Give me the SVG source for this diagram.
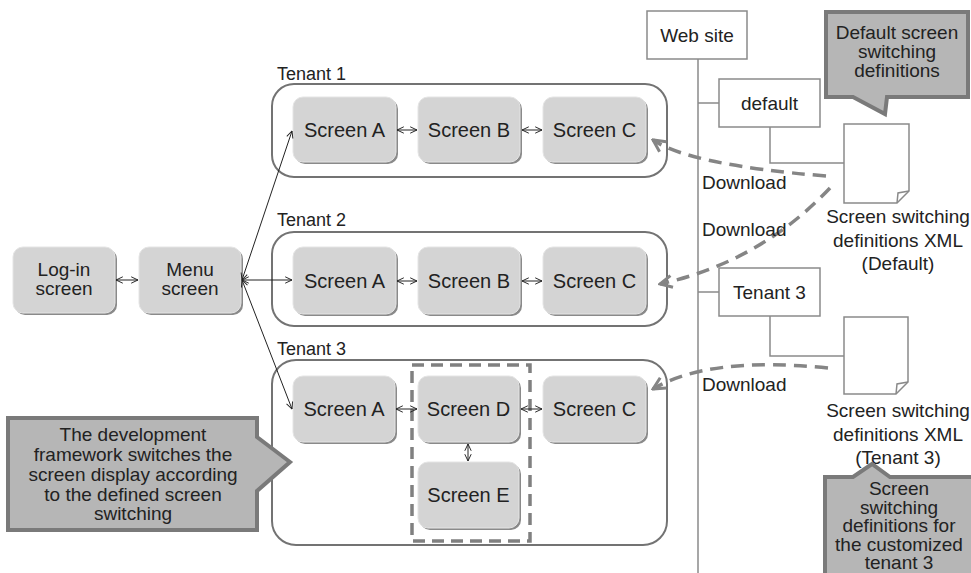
<svg xmlns="http://www.w3.org/2000/svg" width="971" height="573" viewBox="0 0 971 573">
  <style>
    text { font-family: "Liberation Sans", Arial, sans-serif; font-size: 19px; fill: #222; }
    .mid { text-anchor: middle; }
    .lbl { font-size: 18px; }
    .big { font-size: 20px; }
    .shadow { fill: #8a8a8a; }
    .screen { fill: #d4d4d4; stroke: #e4e4e4; stroke-width: 1; }
    .tenant { fill: none; stroke: #737373; stroke-width: 2; }
    .plain { fill: #fff; stroke: #8a8a8a; stroke-width: 1.5; }
    .wire { fill: none; stroke: #8a8a8a; stroke-width: 1.5; }
    .link { fill: none; stroke: #222; stroke-width: 1; marker-start: url(#tip); marker-end: url(#tip); }
    .dl { fill: none; stroke: #858585; stroke-width: 3.5; stroke-dasharray: 13 8; marker-end: url(#dltip); }
    .callout { fill: #b6b6b6; stroke: #7a7a7a; stroke-width: 4; stroke-linejoin: miter; }
    .group { fill: none; stroke: #808080; stroke-width: 3.5; stroke-dasharray: 12 7; }
  </style>
  <defs>
    <marker id="tip" viewBox="0 0 10 10" refX="9.5" refY="5" markerWidth="8" markerHeight="8" markerUnits="userSpaceOnUse" orient="auto-start-reverse">
      <path d="M1,1 L9.5,5 L1,9" fill="none" stroke="#222" stroke-width="1.2"/>
    </marker>
    <marker id="dltip" viewBox="0 0 16 16" refX="14" refY="8" markerWidth="16" markerHeight="16" markerUnits="userSpaceOnUse" orient="auto">
      <path d="M2,2 L14,8 L2,14" fill="none" stroke="#858585" stroke-width="3"/>
    </marker>
  </defs>

  <!-- tenant containers -->
  <g id="tenant1">
    <text class="lbl" x="277" y="80">Tenant 1</text>
    <rect class="tenant" x="272" y="84" width="395" height="93" rx="22"/>
  </g>
  <g id="tenant2">
    <text class="lbl" x="277" y="226">Tenant 2</text>
    <rect class="tenant" x="272" y="232" width="395" height="94" rx="22"/>
  </g>
  <g id="tenant3">
    <text class="lbl" x="277" y="355">Tenant 3</text>
    <rect class="tenant" x="272" y="360" width="395" height="185" rx="24"/>
    <rect class="group" x="412" y="365" width="118" height="176"/>
  </g>

  <!-- screens -->
  <g id="login">
    <rect class="shadow" x="15" y="249" width="102" height="66" rx="10"/>
    <rect class="screen" x="13" y="247" width="102" height="66" rx="10"/>
    <text class="mid" x="64" y="276">Log-in</text>
    <text class="mid" x="64" y="295">screen</text>
  </g>
  <g id="menu">
    <rect class="shadow" x="141" y="249" width="102" height="66" rx="10"/>
    <rect class="screen" x="139" y="247" width="102" height="66" rx="10"/>
    <text class="mid" x="190" y="276">Menu</text>
    <text class="mid" x="190" y="295">screen</text>
  </g>

  <g id="t1-screen-a">
    <rect class="shadow" x="295" y="99" width="103" height="65" rx="10"/>
    <rect class="screen" x="293" y="97" width="103" height="65" rx="10"/>
    <text class="mid big" x="344.5" y="137">Screen A</text>
  </g>
  <g id="t1-screen-b">
    <rect class="shadow" x="420" y="99" width="102" height="65" rx="10"/>
    <rect class="screen" x="418" y="97" width="102" height="65" rx="10"/>
    <text class="mid big" x="469" y="137">Screen B</text>
  </g>
  <g id="t1-screen-c">
    <rect class="shadow" x="545" y="99" width="103" height="65" rx="10"/>
    <rect class="screen" x="543" y="97" width="103" height="65" rx="10"/>
    <text class="mid big" x="594.5" y="137">Screen C</text>
  </g>

  <g id="t2-screen-a">
    <rect class="shadow" x="295" y="249" width="103" height="67" rx="10"/>
    <rect class="screen" x="293" y="247" width="103" height="67" rx="10"/>
    <text class="mid big" x="344.5" y="288">Screen A</text>
  </g>
  <g id="t2-screen-b">
    <rect class="shadow" x="420" y="249" width="102" height="67" rx="10"/>
    <rect class="screen" x="418" y="247" width="102" height="67" rx="10"/>
    <text class="mid big" x="469" y="288">Screen B</text>
  </g>
  <g id="t2-screen-c">
    <rect class="shadow" x="545" y="249" width="103" height="67" rx="10"/>
    <rect class="screen" x="543" y="247" width="103" height="67" rx="10"/>
    <text class="mid big" x="594.5" y="288">Screen C</text>
  </g>

  <g id="t3-screen-a">
    <rect class="shadow" x="295" y="378" width="102" height="66" rx="10"/>
    <rect class="screen" x="293" y="376" width="102" height="66" rx="10"/>
    <text class="mid big" x="344" y="416">Screen A</text>
  </g>
  <g id="t3-screen-d">
    <rect class="shadow" x="420" y="378" width="101" height="66" rx="10"/>
    <rect class="screen" x="418" y="376" width="101" height="66" rx="10"/>
    <text class="mid big" x="468.5" y="416">Screen D</text>
  </g>
  <g id="t3-screen-c">
    <rect class="shadow" x="545" y="378" width="103" height="66" rx="10"/>
    <rect class="screen" x="543" y="376" width="103" height="66" rx="10"/>
    <text class="mid big" x="594.5" y="416">Screen C</text>
  </g>
  <g id="t3-screen-e">
    <rect class="shadow" x="420" y="464" width="101" height="66" rx="10"/>
    <rect class="screen" x="418" y="462" width="101" height="66" rx="10"/>
    <text class="mid big" x="468.5" y="502">Screen E</text>
  </g>

  <!-- web site side -->
  <g id="website">
    <rect class="plain" x="647" y="11" width="100" height="48"/>
    <text class="mid" x="697" y="42">Web site</text>
  </g>
  <g id="default">
    <rect class="plain" x="719" y="79" width="101" height="48"/>
    <text class="mid" x="769.5" y="110">default</text>
  </g>
  <g id="tenant3-site">
    <rect class="plain" x="719" y="268" width="101" height="48"/>
    <text class="mid" x="769.5" y="299">Tenant 3</text>
  </g>
  <g id="xml-default">
    <path class="plain" d="M844,124 H909 V191 L897,203 H844 Z"/>
    <path class="wire" d="M909,191 L898,193 L897,203" fill="#f2f2f2"/>
    <text class="mid" x="898" y="223">Screen switching</text>
    <text class="mid" x="898" y="247">definitions XML</text>
    <text class="mid" x="898" y="270">(Default)</text>
  </g>
  <g id="xml-tenant3">
    <path class="plain" d="M844,317 H908 V382 L896,394 H844 Z"/>
    <path class="wire" d="M908,382 L897,384 L896,394" fill="#f2f2f2"/>
    <text class="mid" x="898" y="417">Screen switching</text>
    <text class="mid" x="898" y="441">definitions XML</text>
    <text class="mid" x="898" y="464">(Tenant 3)</text>
  </g>

  <!-- callouts -->
  <g id="note-default">
    <path class="callout" d="M826,12 H968 V97 H887 L885,114 L853,97 H826 Z"/>
    <text class="mid" x="897" y="39">Default screen</text>
    <text class="mid" x="897" y="58">switching</text>
    <text class="mid" x="897" y="77">definitions</text>
  </g>
  <g id="note-tenant3">
    <path class="callout" d="M825,580 V477 H853 L872,464 L890,477 H980 V580"/>
    <text class="mid" x="899" y="495">Screen</text>
    <text class="mid" x="899" y="513.5">switching</text>
    <text class="mid" x="899" y="532">definitions for</text>
    <text class="mid" x="899" y="550.5">the customized</text>
    <text class="mid" x="899" y="569">tenant 3</text>
  </g>
  <g id="note-framework">
    <path class="callout" d="M8,418 H257 V437 L290,462 L257,491 V530 H8 Z"/>
    <text class="mid" x="133" y="441">The development</text>
    <text class="mid" x="133" y="461">framework switches the</text>
    <text class="mid" x="133" y="481">screen display according</text>
    <text class="mid" x="133" y="501">to the defined screen</text>
    <text class="mid" x="133" y="520">switching</text>
  </g>

  <!-- connectors -->
  <g id="connectors">
    <line class="link" x1="116" y1="280" x2="138" y2="280"/>
    <line class="link" x1="242" y1="280" x2="292" y2="131"/>
    <line class="link" x1="242" y1="280" x2="292" y2="280"/>
    <line class="link" x1="242" y1="280" x2="292" y2="409"/>
    <line class="link" x1="397" y1="130" x2="417" y2="130"/>
    <line class="link" x1="522" y1="130" x2="542" y2="130"/>
    <line class="link" x1="397" y1="281" x2="417" y2="281"/>
    <line class="link" x1="522" y1="281" x2="542" y2="281"/>
    <line class="link" x1="396" y1="409" x2="417" y2="409"/>
    <line class="link" x1="521" y1="409" x2="542" y2="409"/>
    <line class="link" x1="468" y1="444" x2="468" y2="461"/>

    <line class="wire" x1="698" y1="59" x2="698" y2="573"/>
    <line class="wire" x1="698" y1="103" x2="719" y2="103"/>
    <line class="wire" x1="698" y1="292" x2="719" y2="292"/>
    <path class="wire" d="M770,127 V163 H844"/>
    <path class="wire" d="M770,316 V356 H844"/>

    <path class="dl" d="M826,176 Q690,165 653,140"/>
    <path class="dl" d="M830,188 Q760,262 660,284"/>
    <path class="dl" d="M828,368 Q708,356 653,389"/>
    <text x="702" y="189">Download</text>
    <text x="702" y="236">Download</text>
    <text x="702" y="391">Download</text>
  </g>
</svg>
